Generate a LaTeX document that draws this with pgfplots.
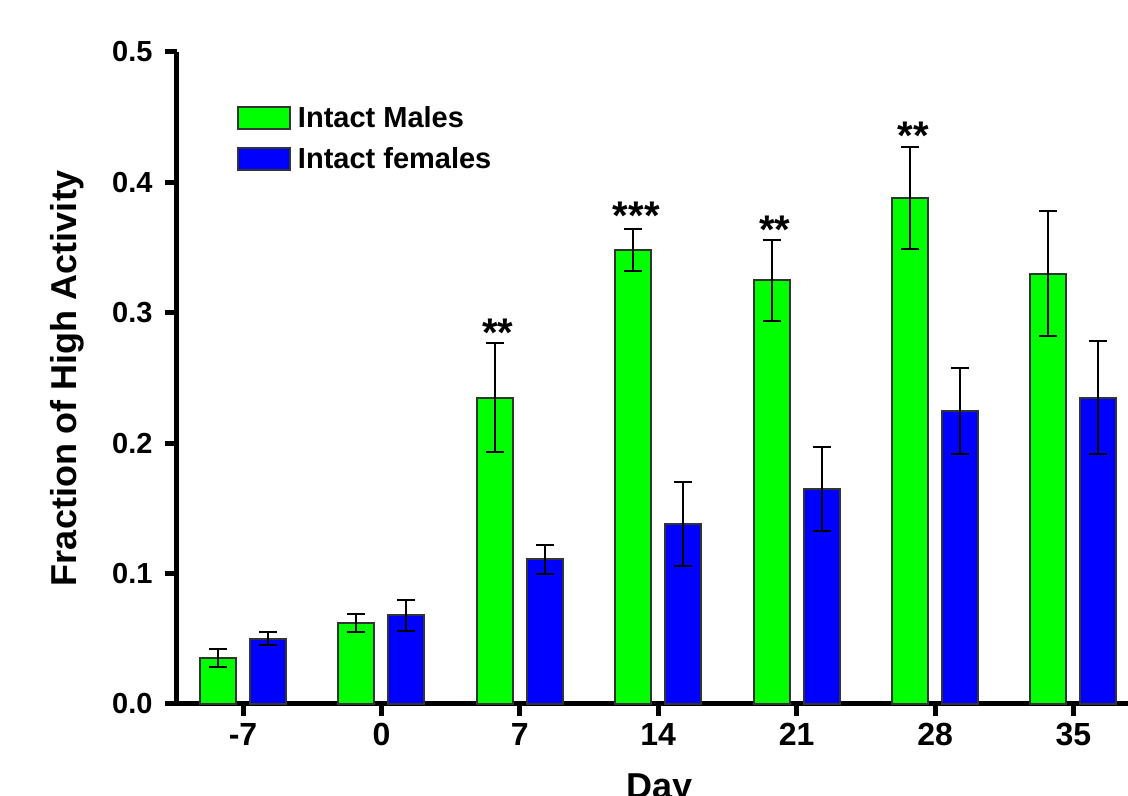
\documentclass[border=0pt]{standalone}
\usepackage{pgfplots}
\pgfplotsset{compat=1.18}
\usepackage{pgfplotstable}
\usepackage{fontspec}
\setmainfont{Liberation Sans}
\definecolor{mgreen}{RGB}{0,255,0}
\definecolor{fblue}{RGB}{0,0,255}

\pgfplotstableread{
x m me f fe
0 0.035 0.007 0.050 0.005
1 0.062 0.007 0.068 0.012
2 0.235 0.042 0.111 0.011
3 0.348 0.016 0.138 0.032
4 0.325 0.031 0.165 0.032
5 0.388 0.039 0.225 0.033
6 0.330 0.048 0.235 0.043
}\data

\begin{document}
\begin{tikzpicture}
\path[use as bounding box] (0,0) rectangle (564pt,398pt);
\clip (0,0) rectangle (564pt,398pt);
\begin{axis}[
  at={(88.3pt,46pt)}, anchor=south west,
  x=69.2pt, y=652pt,
  xmin=-0.48, xmax=6.4, ymin=0, ymax=0.5,
  axis x line*=bottom, axis y line*=left,
  axis line style={line width=2.5pt, black, -},
  xtick={0,1,2,3,4,5,6}, xticklabels={-7,0,7,14,21,28,35},
  ytick={0,0.1,0.2,0.3,0.4,0.5},
  tick align=outside, major tick length=6pt,
  tick style={line width=2.5pt, black},
  x tick label style={font=\fontsize{16}{16}\selectfont\bfseries},
  y tick label style={font=\fontsize{14.5}{14.5}\selectfont\bfseries, xshift=-2.5pt},
  yticklabel style={/pgf/number format/.cd, fixed, fixed zerofill, precision=1, assume math mode=true},
  ybar=7pt, bar width=18pt,
  clip=false,
  xlabel={Day},
  xlabel style={at={(axis description cs:0.507,-0.1457)}, anchor=base, font=\fontsize{18}{18}\selectfont\bfseries},
  ylabel={Fraction of High Activity},
  ylabel style={at={(axis description cs:-0.105,0.5)}, anchor=base, rotate=0, font=\fontsize{18}{18}\selectfont\bfseries},
  legend style={draw=none, fill=none, at={(0.063,0.922)}, anchor=north west,
    font=\fontsize{14.5}{14.5}\selectfont\bfseries, row sep=5.5pt, inner sep=0pt,
    nodes={inner sep=1.5pt},
    /tikz/every odd column/.append style={column sep=2pt}},
  legend cell align=left,
  legbox/.style={legend image code/.code={\draw[##1, line width=1pt] (0pt,-5.5pt) rectangle (26pt,5.5pt);}},
  error bars/y dir=both, error bars/y explicit,
  error bars/error bar style={line width=1pt, black},
  error bars/error mark options={rotate=90, mark size=4.5pt, line width=1pt, black},
]
\addplot[fill=mgreen, draw=black!80, line width=1pt, legbox] table[x=x, y=m, y error=me] {\data};
\addlegendentry{Intact Males}
\addplot[fill=fblue, draw=black!80, line width=1pt, legbox] table[x=x, y=f, y error=fe] {\data};
\addlegendentry{Intact females}

\node[anchor=base, font=\fontsize{20}{20}\selectfont\bfseries, xshift=-11pt] at (axis cs:2,0.274) {**};
\node[anchor=base, font=\fontsize{20}{20}\selectfont\bfseries, xshift=-11pt] at (axis cs:3,0.3635) {***};
\node[anchor=base, font=\fontsize{20}{20}\selectfont\bfseries, xshift=-11pt] at (axis cs:4,0.353) {**};
\node[anchor=base, font=\fontsize{20}{20}\selectfont\bfseries, xshift=-11pt] at (axis cs:5,0.425) {**};
\end{axis}
\end{tikzpicture}
\end{document}
